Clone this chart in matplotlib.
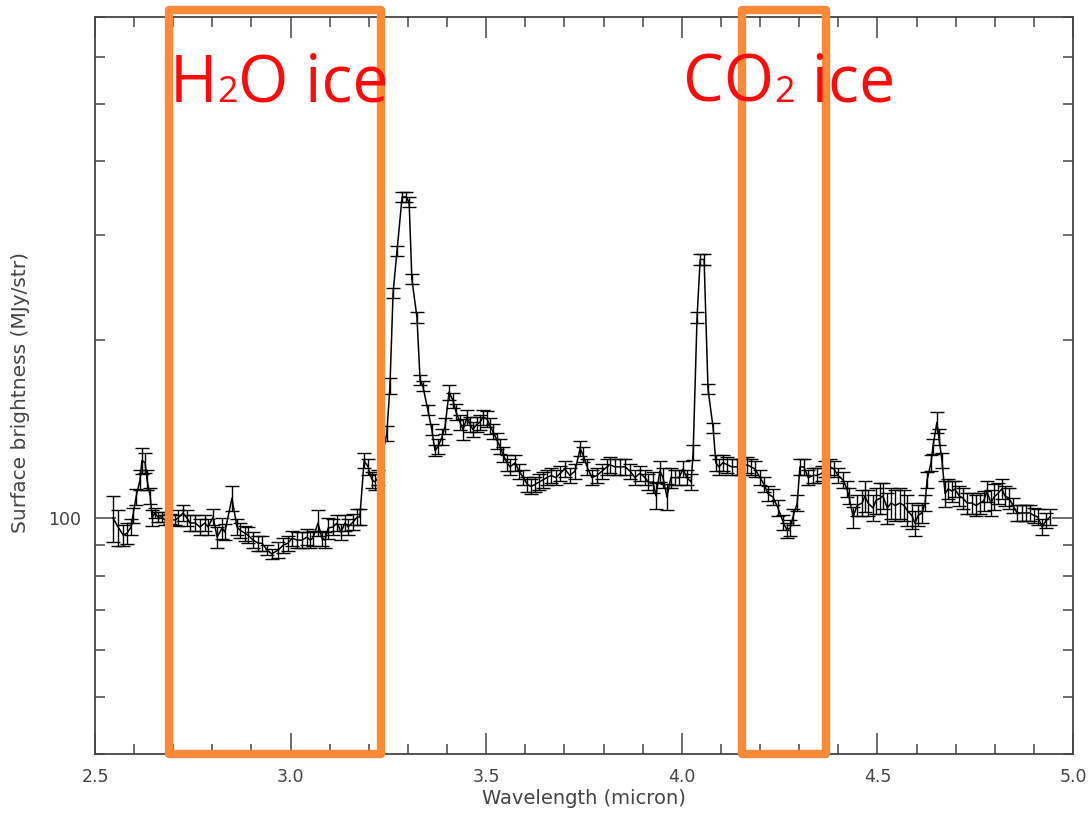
import matplotlib
matplotlib.use("Agg")
import matplotlib.pyplot as plt
from matplotlib.ticker import MultipleLocator, LogLocator, NullFormatter, FuncFormatter
from matplotlib.patches import Rectangle
from matplotlib.transforms import blended_transform_factory

# spectrum (micron, MJy/str, error in %)
wavelength = [
    2.546, 2.559, 2.572, 2.582, 2.592, 2.597, 2.605, 2.615, 2.620, 2.628,
    2.633, 2.641, 2.646, 2.653, 2.661, 2.671, 2.679, 2.692, 2.704, 2.712,
    2.725, 2.735, 2.743, 2.756, 2.768, 2.781, 2.789, 2.802, 2.812, 2.825,
    2.832, 2.850, 2.863, 2.871, 2.883, 2.891, 2.904, 2.917, 2.927, 2.940,
    2.952, 2.968, 2.981, 2.993, 3.004, 3.016, 3.029, 3.042, 3.050, 3.057,
    3.070, 3.080, 3.088, 3.096, 3.108, 3.119, 3.129, 3.139, 3.147, 3.160,
    3.170, 3.177, 3.188, 3.198, 3.208, 3.216, 3.223, 3.246, 3.254, 3.262,
    3.272, 3.285, 3.295, 3.303, 3.310, 3.323, 3.331, 3.338, 3.351, 3.361,
    3.369, 3.377, 3.387, 3.395, 3.405, 3.415, 3.423, 3.433, 3.441, 3.451,
    3.459, 3.466, 3.476, 3.484, 3.492, 3.502, 3.510, 3.517, 3.528, 3.535,
    3.543, 3.553, 3.561, 3.574, 3.584, 3.595, 3.605, 3.615, 3.625, 3.635,
    3.645, 3.655, 3.666, 3.678, 3.689, 3.701, 3.714, 3.727, 3.740, 3.747,
    3.758, 3.770, 3.783, 3.796, 3.809, 3.816, 3.829, 3.842, 3.855, 3.868,
    3.880, 3.893, 3.906, 3.914, 3.926, 3.934, 3.944, 3.952, 3.962, 3.972,
    3.983, 3.993, 4.003, 4.013, 4.024, 4.029, 4.039, 4.047, 4.057, 4.067,
    4.080, 4.087, 4.095, 4.105, 4.116, 4.128, 4.141, 4.154, 4.167, 4.177,
    4.187, 4.200, 4.210, 4.220, 4.233, 4.246, 4.259, 4.269, 4.277, 4.284,
    4.295, 4.302, 4.312, 4.323, 4.336, 4.346, 4.358, 4.366, 4.379, 4.389,
    4.399, 4.412, 4.422, 4.427, 4.438, 4.448, 4.461, 4.468, 4.476, 4.489,
    4.496, 4.507, 4.514, 4.525, 4.535, 4.545, 4.558, 4.568, 4.576, 4.588,
    4.596, 4.604, 4.614, 4.622, 4.627, 4.637, 4.642, 4.652, 4.657, 4.665,
    4.673, 4.681, 4.691, 4.698, 4.709, 4.719, 4.729, 4.742, 4.752, 4.762,
    4.772, 4.780, 4.790, 4.798, 4.808, 4.818, 4.826, 4.836, 4.847, 4.857,
    4.870, 4.880, 4.890, 4.900, 4.910, 4.921, 4.931, 4.941,
]

brightness = [
    100, 96.6, 93.6, 94.3, 96.6, 101, 108.5, 116, 125, 124,
    116, 109, 100, 102, 100.4, 100.4, 99.2, 99.6, 99.2, 100,
    102, 100, 98.1, 98.1, 96.6, 98.1, 96.6, 100.4, 92.9, 96.2,
    94.7, 108, 96.6, 95.4, 94.3, 93.6, 91.8, 90.7, 90.7, 88.3,
    87.0, 88.3, 90.0, 90.7, 92.5, 91.8, 91.8, 92.9, 91.8, 92.5,
    98.1, 92.5, 91.8, 96.2, 96.6, 98.1, 94.7, 98.1, 96.6, 98.5,
    100.4, 100.4, 125, 122, 116, 115, 117, 139, 167, 240,
    282, 348, 348, 341, 253, 218, 171, 167, 152, 141,
    130, 132, 137, 143, 163, 158, 151, 145, 141, 148,
    144, 141, 144, 145, 148, 147, 143, 140, 135, 132,
    128, 124, 122, 124, 120, 117, 114, 113, 114, 115,
    116, 117, 118, 117, 119, 121, 118, 120, 131, 128,
    122, 117, 118, 120, 122, 123, 122, 122, 122, 120,
    117, 119, 117, 115, 115, 109, 120, 117, 108.5, 117,
    117, 117, 121, 117, 115, 129, 218, 273, 273, 165,
    142, 124, 122, 124, 123, 122, 122, 122, 123, 122,
    121, 117, 114, 110, 108.5, 104, 98.4, 95.4, 96.2, 100.4,
    106, 122, 122, 117, 118, 118, 119, 121, 122, 121,
    118, 116, 112, 109, 100.4, 105, 106, 109, 106, 104,
    107, 108, 109, 104, 106, 105, 106, 105, 103, 101,
    98, 101, 102, 106, 116, 124, 132, 145, 137, 125,
    110, 112, 111, 112, 109, 108, 106, 106, 105, 106,
    107, 111, 106, 108.5, 110, 112, 109, 108, 105, 102,
    102, 102, 102, 101, 100.4, 96.6, 99, 100.4,
]

err_pct = [
    9, 7, 4, 4, 3, 3, 3, 4, 5, 4,
    4, 3, 3, 2, 2, 2, 2, 2, 2, 3,
    3, 3, 3, 3, 3, 3, 3, 3, 4, 4,
    3, 5, 3, 3, 3, 3, 3, 3, 3, 2,
    2, 3, 3, 3, 3, 3, 3, 3, 3, 3,
    5, 3, 3, 4, 3, 3, 3, 3, 3, 3,
    3, 3, 3, 3, 3, 3, 3, 3, 3, 2,
    2, 2, 2, 2, 2, 2, 2, 2, 2, 2,
    2, 3, 3, 3, 3, 3, 3, 3, 4, 3,
    3, 3, 3, 3, 3, 3, 3, 3, 3, 3,
    3, 3, 3, 3, 3, 3, 3, 3, 3, 3,
    3, 3, 3, 3, 3, 3, 3, 3, 3, 3,
    3, 3, 3, 3, 3, 3, 3, 3, 3, 3,
    3, 3, 3, 3, 4, 5, 4, 4, 5, 4,
    3, 3, 3, 3, 3, 3, 2, 2, 2, 2,
    2, 3, 3, 3, 3, 3, 3, 3, 3, 3,
    3, 3, 3, 3, 3, 3, 3, 3, 3, 3,
    3, 3, 3, 3, 3, 3, 3, 3, 3, 3,
    3, 3, 3, 3, 4, 4, 5, 6, 5, 5,
    5, 6, 5, 6, 6, 6, 6, 6, 6, 5,
    5, 4, 4, 3, 3, 3, 3, 4, 3, 3,
    5, 4, 4, 3, 4, 4, 4, 4, 4, 4,
    4, 4, 5, 5, 4, 4, 4, 4, 3, 3,
    3, 3, 3, 3, 3, 3, 3, 3,
]

# ice band boxes (micron)
h2o_band = [2.689, 3.231]
co2_band = [4.154, 4.369]

W, H = 1090, 816
fig = plt.figure(figsize=(W / 100, H / 100), dpi=100)
ax = fig.add_axes([95 / W, 1 - 754 / H, (1073 - 95) / W, (754 - 17) / H])

yerr = [b * e / 100.0 for b, e in zip(brightness, err_pct)]
ax.errorbar(wavelength, brightness, yerr=yerr, color='black', lw=1.1,
            elinewidth=1.0, capsize=5, capthick=1.0, zorder=2)

ax.set_yscale('log')
ax.set_xlim(2.5, 5.0)
ax.set_ylim(40, 700)

axis_col = '#444444'
ax.xaxis.set_major_locator(MultipleLocator(0.5))
ax.xaxis.set_minor_locator(MultipleLocator(0.1))
ax.xaxis.set_major_formatter(FuncFormatter(lambda v, p: '%.1f' % v))
ax.yaxis.set_major_locator(LogLocator(base=10))
ax.yaxis.set_minor_locator(LogLocator(base=10, subs=range(2, 10)))
ax.yaxis.set_major_formatter(FuncFormatter(lambda v, p: '%d' % v))
ax.yaxis.set_minor_formatter(NullFormatter())

ax.tick_params(which='both', direction='in', top=True, right=True,
               color=axis_col, labelcolor=axis_col, labelsize=12.5)
ax.tick_params(which='major', length=15, width=1.1, pad=10)
ax.tick_params(which='minor', length=7.5, width=1.1)
for s in ax.spines.values():
    s.set_color(axis_col)
    s.set_linewidth(1.3)

ax.set_xlabel('Wavelength (micron)', fontsize=14, color=axis_col)
ax.set_ylabel('Surface brightness (MJy/str)', fontsize=14.5, color=axis_col)
ax.xaxis.set_label_coords(0.5, -0.048)
ax.yaxis.set_label_coords(-0.066, 0.49)

# orange boxes
orange = '#fb8a36'
trans = blended_transform_factory(ax.transData, ax.transAxes)
for band in (h2o_band, co2_band):
    r = Rectangle((band[0], 0.0), band[1] - band[0], 1.0095, transform=trans,
                  fill=False, edgecolor=orange, lw=6, clip_on=False,
                  joinstyle='round', zorder=3)
    ax.add_patch(r)

# red labels with subscript sitting on the baseline
fig.canvas.draw()
renderer = fig.canvas.get_renderer()


def formula(parts, x_px, base_px):
    x = x_px
    for txt, size in parts:
        t = fig.text(x / W, 1 - base_px / H, txt, fontsize=size, color='#ff0a0a',
                     family='Open Sans', ha='left', va='baseline', zorder=5)
        bb = t.get_window_extent(renderer)
        x = bb.x1


formula([('H', 46.5), ('2', 26), ('O ice', 46.5)], 170, 102)
formula([('CO', 46.5), ('2', 26), (' ice', 46.5)], 683, 102)

fig.savefig('out.png', dpi=100, facecolor='white')
